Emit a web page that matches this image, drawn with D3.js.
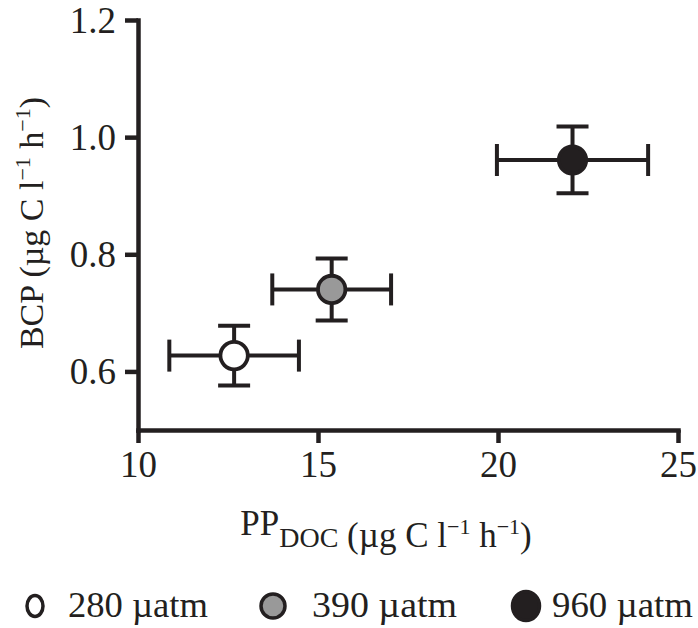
<!DOCTYPE html>
<html>
<head>
<meta charset="utf-8">
<script src="https://cdn.jsdelivr.net/npm/d3@7"></script>
<style>
  body { margin: 0; background: #fff; }
  svg { display: block; }
  text { font-family: "Liberation Serif", "DejaVu Serif", serif; fill: #231f20; }
</style>
</head>
<body>
<svg id="chart" width="698" height="628"></svg>
<script>
// ---- data ----
const groups   = ["280 µatm", "390 µatm", "960 µatm"];
const ppDOC    = [12.67, 15.38, 22.07];   // x values
const ppDOCErr = [1.80, 1.65, 2.10];      // x error (±)
const bcp      = [0.627, 0.740, 0.961];   // y values
const bcpErr   = [0.051, 0.053, 0.057];   // y error (±)
const fills    = ["#ffffff", "#999999", "#231f20"];
const xTicks   = [10, 15, 20, 25];
const yTicks   = [0.6, 0.8, 1.0, 1.2];

const ink = "#231f20";
const svg = d3.select("#chart");

const x = d3.scaleLinear().domain([10, 25]).range([138, 678]);
const y = d3.scaleLinear().domain([0.5, 1.2]).range([430, 20]);

// ---- axes ----
const xAxis = svg.append("g")
  .attr("transform", `translate(0,${y(0.5)})`)
  .call(d3.axisBottom(x).tickValues(xTicks).tickSize(13).tickSizeOuter(0).tickPadding(6).tickFormat(d3.format("d")));
const yAxis = svg.append("g")
  .attr("transform", `translate(${x(10)},0)`)
  .call(d3.axisLeft(y).tickValues(yTicks).tickSize(13).tickSizeOuter(0).tickPadding(9).tickFormat(d3.format(".1f")));

[xAxis, yAxis].forEach(g => {
  g.select(".domain").attr("stroke", ink).attr("stroke-width", 4.5).attr("stroke-linecap", "square");
  g.selectAll(".tick line").attr("stroke", ink).attr("stroke-width", 4.5);
  g.selectAll(".tick text").attr("font-size", 37).attr("fill", ink)
    .style("font-family", '"Liberation Serif", serif');
});
xAxis.selectAll(".tick text").attr("dy", "0.76em");
yAxis.selectAll(".tick text").attr("dy", "0.33em");

// ---- axis titles ----
function unitSpans(t, sup) {
  t.append("tspan").text(" (µg C l");
  t.append("tspan").attr("font-size", sup).attr("dy", -13).text("−1");
  t.append("tspan").attr("dy", 13).text(" h");
  t.append("tspan").attr("font-size", sup).attr("dy", -13).text("−1");
  t.append("tspan").attr("dy", 13).text(")");
}

const xt = svg.append("text")
  .attr("x", 386).attr("y", 535)
  .attr("text-anchor", "middle")
  .attr("font-size", 35);
xt.append("tspan").text("PP");
xt.append("tspan").attr("font-size", 28).attr("dy", 12).text("DOC");
xt.append("tspan").attr("dy", -12).text("");
unitSpans(xt, 22);

const yt = svg.append("text")
  .attr("transform", "translate(43,223) rotate(-90)")
  .attr("text-anchor", "middle")
  .attr("font-size", 34);
yt.append("tspan").text("BCP");
unitSpans(yt, 22);

// ---- points with error bars ----
const data = groups.map((g, i) => ({
  g, x: ppDOC[i], xe: ppDOCErr[i], y: bcp[i], ye: bcpErr[i], fill: fills[i]
}));

const cap = 16;
const eb = svg.append("g").attr("stroke", ink).attr("stroke-width", 4).attr("fill", "none");
data.forEach(d => {
  const cx = x(d.x), cy = y(d.y);
  eb.append("line").attr("x1", x(d.x - d.xe)).attr("x2", x(d.x + d.xe)).attr("y1", cy).attr("y2", cy);
  eb.append("line").attr("x1", x(d.x - d.xe)).attr("x2", x(d.x - d.xe)).attr("y1", cy - cap).attr("y2", cy + cap);
  eb.append("line").attr("x1", x(d.x + d.xe)).attr("x2", x(d.x + d.xe)).attr("y1", cy - cap).attr("y2", cy + cap);
  eb.append("line").attr("x1", cx).attr("x2", cx).attr("y1", y(d.y - d.ye)).attr("y2", y(d.y + d.ye));
  eb.append("line").attr("x1", cx - cap).attr("x2", cx + cap).attr("y1", y(d.y - d.ye)).attr("y2", y(d.y - d.ye));
  eb.append("line").attr("x1", cx - cap).attr("x2", cx + cap).attr("y1", y(d.y + d.ye)).attr("y2", y(d.y + d.ye));
});

svg.append("g").selectAll("circle").data(data).join("circle")
  .attr("cx", d => x(d.x)).attr("cy", d => y(d.y)).attr("r", 13.7)
  .attr("fill", d => d.fill).attr("stroke", ink).attr("stroke-width", 3.8);

// ---- legend ----
const legendX  = [35, 273, 526];
const legendTX = [68, 312, 552];
const legendTW = [140, 145, 141];
const legendRx = [8, 12, 13.5];
const legendRy = [10.5, 12, 14.5];
const lg = svg.append("g");
groups.forEach((g, i) => {
  lg.append("ellipse")
    .attr("cx", legendX[i]).attr("cy", 606)
    .attr("rx", legendRx[i]).attr("ry", legendRy[i])
    .attr("fill", fills[i]).attr("stroke", ink).attr("stroke-width", 3.5);
  lg.append("text").attr("x", legendTX[i]).attr("y", 617)
    .attr("font-size", 35)
    .attr("textLength", legendTW[i]).attr("lengthAdjust", "spacingAndGlyphs")
    .text(g);
});
</script>
</body>
</html>
